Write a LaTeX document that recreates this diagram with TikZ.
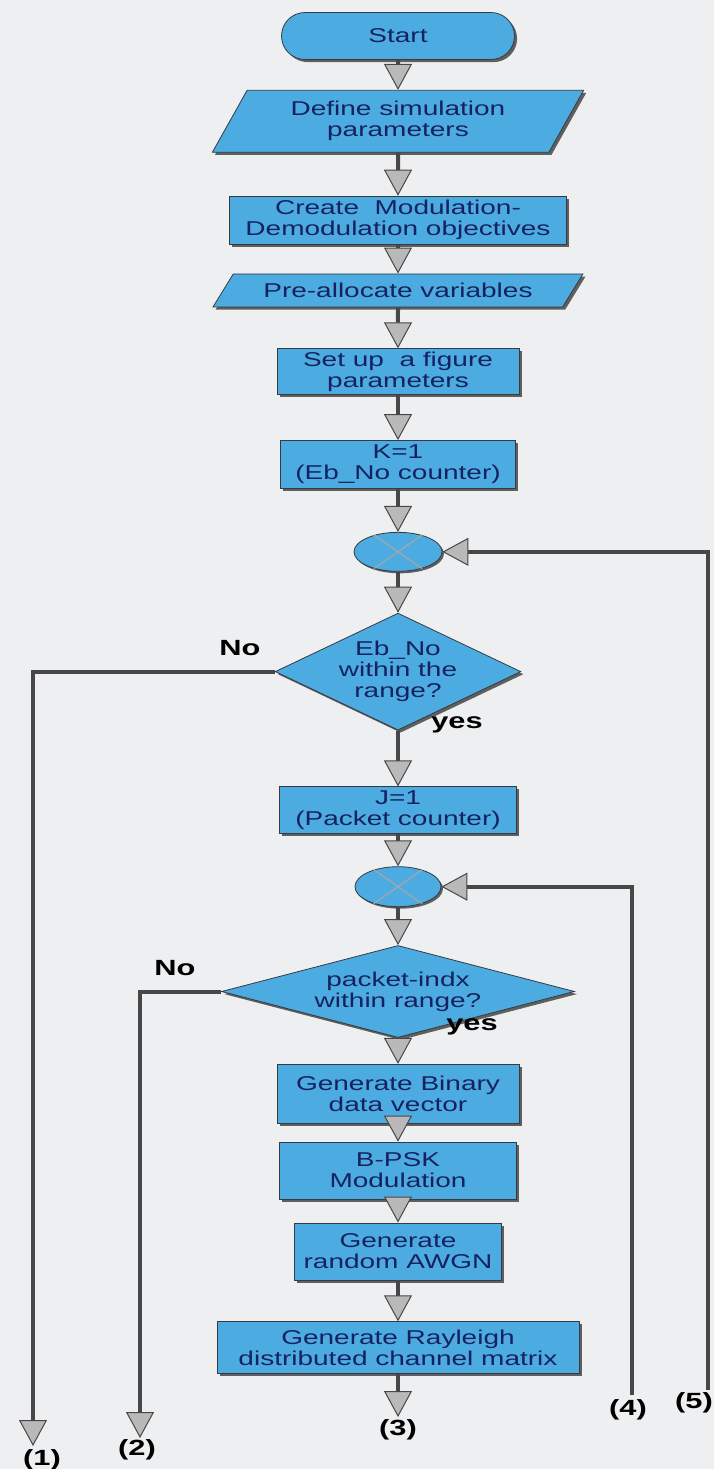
\documentclass[tikz,border=0pt]{standalone}
\usepackage{fontspec}
\setmainfont{Liberation Sans}[FakeStretch=1.4]
\usetikzlibrary{shapes.geometric,arrows.meta,shadows,positioning}
\definecolor{flowfill}{RGB}{76,172,226}
\definecolor{flowtext}{RGB}{22,34,96}
\definecolor{flowedge}{RGB}{55,58,66}
\definecolor{paper}{RGB}{238,239,240}
\newlength{\FlowBoxHeight}
\setlength{\FlowBoxHeight}{23.5pt}
\newlength{\FlowBoxWidth}
\setlength{\FlowBoxWidth}{118.5pt}
\tikzset{/flow/box/.style={
	shape=rectangle, draw=flowedge, fill=flowfill, text=flowtext, align=center, inner sep=1pt, minimum height=\FlowBoxHeight, minimum width=\FlowBoxWidth, font=\fontsize{10}{10.5}\selectfont, drop shadow={shadow xshift=1.3pt, shadow yshift=-1.3pt, fill=black, opacity=0.6}
}}
\tikzset{/flow/term/.style={/flow/box, rounded corners=11.75pt, minimum width=116.5pt}}
\tikzset{/flow/io/.style={
	/flow/box, shape=trapezium, trapezium left angle=60, trapezium right angle=120, trapezium stretches=true
}}
\tikzset{/flow/test/.style={
	/flow/box, shape=diamond, inner sep=0pt, shape aspect=2.1, minimum width=120pt, minimum height=57.5pt
}}
\tikzset{/flow/join/.style={
	shape=ellipse, draw=flowedge, fill=flowfill, inner sep=0pt, minimum width=44pt, minimum height=19.5pt, drop shadow={shadow xshift=1pt, shadow yshift=-1pt, fill=black, opacity=0.6}
}}
\tikzset{/flow/arrow/.style={
	draw=black!72, line width=2pt, -{Triangle[width=14pt,length=13pt,fill=gray!55,line width=0.5pt]}
}}
\tikzset{/flow/label/.style={font=\fontsize{11}{11}\selectfont\bfseries, text=black, inner sep=0pt}}

\begin{document}
\begin{tikzpicture}[x=0.5pt, y=0.5pt]
	\path[use as bounding box, fill=paper] (0,0) rectangle (714,-1469);
	\path (398,-36) node[/flow/term] (Start) {Start};
	\path (Start.south) ++(0,-30) node[/flow/io, anchor=north, minimum width=186pt, minimum height=31pt] (Params) {Define simulation\\parameters};
	\path (Params.south) ++(0,-43) node[/flow/box, anchor=north, minimum width=168.5pt, minimum height=24pt] (Objects) {Create\ \ Modulation-\\Demodulation objectives};
	\path (Objects.south) ++(0,-29) node[/flow/io, anchor=north, trapezium left angle=48, trapezium right angle=132, minimum width=185pt, minimum height=16.5pt] (Alloc) {Pre-allocate variables};
	\path (Alloc.south) ++(0,-41) node[/flow/box, anchor=north, minimum width=121pt, minimum height=23pt] (Figure) {Set up\ \ a figure\\parameters};
	\path (Figure.south) ++(0,-45) node[/flow/box, anchor=north, minimum width=117.5pt, minimum height=24pt] (Kinit) {K=1\\(Eb\_No counter)};
	\path (Kinit.south) ++(0,-43) node[/flow/join, anchor=north] (Join1) {};
	\path (Join1.south) ++(0,-41) node[/flow/test, anchor=north] (TestK) {Eb\_No\\within the\\range?};
	\path (TestK.south) ++(0,-56) node[/flow/box, anchor=north] (Jinit) {J=1\\(Packet counter)};
	\path (Jinit.south) ++(0,-32) node[/flow/join, anchor=north, minimum width=43pt, minimum height=20pt] (Join2) {};
	\path (Join2.south) ++(0,-38) node[/flow/test, anchor=north, shape aspect=3.8, minimum width=176.5pt, minimum height=46pt] (TestJ) {packet-indx\\within range?};
	\path (TestJ.south) ++(0,-26) node[/flow/box, anchor=north, minimum width=121pt, minimum height=29.5pt] (Bits) {Generate Binary\\data vector};
	\path (Bits.south) ++(0,-18) node[/flow/box, anchor=north, minimum height=28.5pt] (Mod) {B-PSK\\Modulation};
	\path (Mod.south) ++(0,-23) node[/flow/box, anchor=north, minimum width=103.5pt, minimum height=28.5pt] (Noise) {Generate\\random AWGN};
	\path (Noise.south) ++(0,-41) node[/flow/box, anchor=north, minimum width=181pt, minimum height=26pt] (Chan) {Generate Rayleigh\\distributed channel matrix};
	% crosses in the join circles
	\path[draw=black!35, line width=0.6pt] (Join1.35) -- (Join1.215) (Join1.145) -- (Join1.325);
	\path[draw=black!35, line width=0.6pt] (Join2.35) -- (Join2.215) (Join2.145) -- (Join2.325);
	% loose ends
	\coordinate (Out1) at (33,-1446);
	\coordinate (Out2) at (140,-1438);
	\coordinate (Out3) at (398,-1417);
	\coordinate (In4) at (632,-1395);
	\coordinate (In5) at (708,-1390);
	\path (240,-648) node[/flow/label] (NoK) {No};
	\path (457,-725) node[/flow/label] (YesK) {yes};
	\path (175,-968) node[/flow/label] (NoJ) {No};
	\path (472,-1027) node[/flow/label] (YesJ) {yes};
	\path (42,-1460) node[/flow/label] (Tag1) {(1)};
	\path (137,-1450) node[/flow/label] (Tag2) {(2)};
	\path (398,-1430) node[/flow/label] (Tag3) {(3)};
	\path (628,-1410) node[/flow/label] (Tag4) {(4)};
	\path (694,-1403) node[/flow/label] (Tag5) {(5)};
	\path[/flow/arrow] (Start) -- (Params);
	\path[/flow/arrow] (Params) -- (Objects);
	\path[/flow/arrow] (Objects) -- (Alloc);
	\path[/flow/arrow] (Alloc) -- (Figure);
	\path[/flow/arrow] (Figure) -- (Kinit);
	\path[/flow/arrow] (Kinit) -- (Join1);
	\path[/flow/arrow] (Join1) -- (TestK);
	\path[/flow/arrow] (TestK) -- (Jinit);
	\path[/flow/arrow] (Jinit) -- (Join2);
	\path[/flow/arrow] (Join2) -- (TestJ);
	\path[/flow/arrow] (TestJ) -- (Bits);
	\path[/flow/arrow] (Bits) -- (Mod);
	\path[/flow/arrow] (Mod) -- (Noise);
	\path[/flow/arrow] (Noise) -- (Chan);
	\path[/flow/arrow] (Chan) -- (Out3);
	\path[/flow/arrow] (TestK.west) -| (Out1);
	\path[/flow/arrow] (TestJ.west) -| (Out2);
	\path[/flow/arrow] (In4) |- (Join2);
	\path[/flow/arrow] (In5) |- (Join1);
\end{tikzpicture}
\end{document}
